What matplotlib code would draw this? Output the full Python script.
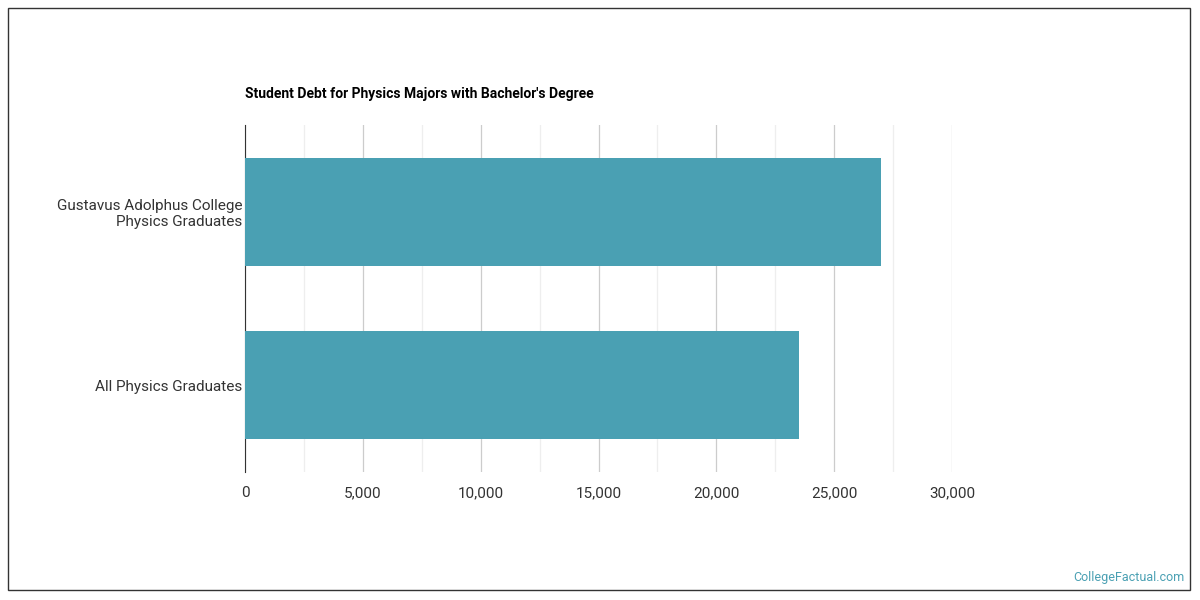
import matplotlib.pyplot as plt
from matplotlib.patches import Rectangle

# data
categories = ['Gustavus Adolphus College\nPhysics Graduates', 'All Physics Graduates']
debt = [27000, 23500]
major_ticks = [0, 5000, 10000, 15000, 20000, 25000, 30000]
minor_ticks = [2500, 7500, 12500, 17500, 22500, 27500]

plt.rcParams['font.family'] = ['Roboto', 'DejaVu Sans']

fig = plt.figure(figsize=(12, 6), dpi=100)
# axes in pixel terms: left 245, right 952, top 125, bottom 472
ax = fig.add_axes([245/1200, 1 - 472/600, (952-245)/1200, (472-125)/600])

ypos = [0, 1]
ax.barh(ypos, debt, height=0.62, color='#4aa0b3', zorder=3)
ax.set_ylim(1.5, -0.5)
ax.set_xlim(0, 30000)
ax.set_yticks(ypos)
ax.set_yticklabels(categories, fontsize=11, color='#333333')
ax.set_xticks(major_ticks)
ax.set_xticklabels([f'{t:,}' for t in major_ticks], fontsize=11, color='#333333')
ax.set_xticks(minor_ticks, minor=True)
ax.grid(axis='x', which='major', color='#cccccc', linewidth=0.9, zorder=0)
ax.grid(axis='x', which='minor', color='#eeeeee', linewidth=0.9, zorder=0)
ax.tick_params(axis='both', which='both', length=0, pad=2)
ax.tick_params(axis='x', pad=10)
for s in ['top', 'right', 'bottom']:
    ax.spines[s].set_visible(False)
ax.spines['left'].set_color('#333333')

fig.text(245/1200, 1 - 94/600, "Student Debt for Physics Majors with Bachelor's Degree",
         fontsize=10, fontweight='bold', va='center', ha='left')
fig.text(1185/1200, 1 - 578/600, 'CollegeFactual.com', fontsize=9,
         color='#4aa0b3', ha='right', va='center')
fig.patches.append(Rectangle((8/1200, 10/600), 1182/1200, 582/600, transform=fig.transFigure,
                             fill=False, edgecolor='#333333', linewidth=1))

fig.savefig('out.png', dpi=100)
